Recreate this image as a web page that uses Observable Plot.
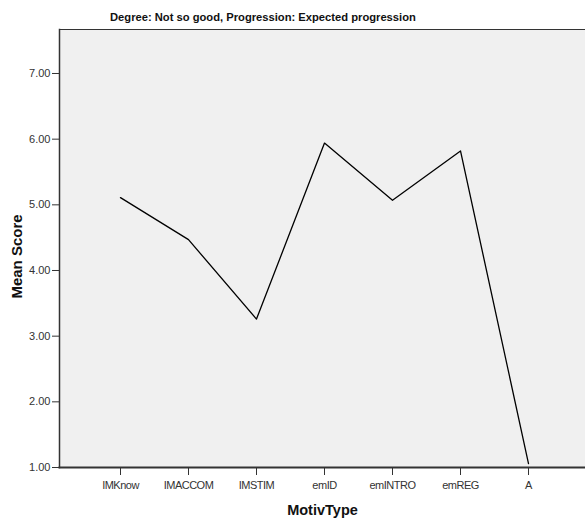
<!DOCTYPE html>
<html>
<head>
<meta charset="utf-8">
<script src="https://cdn.jsdelivr.net/npm/d3@7"></script>
<script src="https://cdn.jsdelivr.net/npm/@observablehq/plot@0.6"></script>
<style>
  html, body { margin: 0; padding: 0; background: white; overflow: hidden; }
  #title { font-family: Arial, "Liberation Sans", sans-serif; font-weight: bold; font-size: 11.2px;
           line-height: 14px; height: 18px; padding-top: 10px; padding-left: 110px; color: #111; white-space: nowrap; }
  .xax text { letter-spacing: -0.5px; }
</style>
</head>
<body>
<div id="title">Degree: Not so good, Progression: Expected progression</div>
<div id="chart"></div>
<script>
const categories = ["IMKnow", "IMACCOM", "IMSTIM", "emID", "emINTRO", "emREG", "A"];
const meanScores = [5.11, 4.47, 3.26, 5.94, 5.07, 5.82, 1.06];
const yTicks = [1, 2, 3, 4, 5, 6, 7];
const yLabel = "Mean Score";
const xLabel = "MotivType";

const data = categories.map((c, i) => ({ c, v: meanScores[i] }));

const chart = Plot.plot({
  width: 585,
  height: 494,
  marginTop: 1,
  marginBottom: 55,
  marginLeft: 59,
  marginRight: 0,
  style: { fontFamily: "Arial, 'Liberation Sans', sans-serif", fontSize: "11px", background: "white", color: "#222", overflow: "visible" },
  x: { type: "point", domain: categories, range: [119.3, 529], padding: 0 },
  y: { domain: [1, 7.67] },
  marks: [
    Plot.frame({ fill: "#f0f0f0", stroke: null }),
    Plot.frame({ anchor: "top", stroke: "#333", strokeWidth: 1 }),
    Plot.frame({ anchor: "left", stroke: "#333", strokeWidth: 1.5 }),
    Plot.axisY({ ticks: yTicks, tickFormat: d => d.toFixed(2), tickSize: 7, tickPadding: 2, label: null, stroke: "#333", fill: "#333" }),
    Plot.axisX({ tickSize: 8, tickPadding: 6, label: null, stroke: "#333", fill: "#333", className: "xax" }),
    Plot.line(data, { x: "c", y: "v", stroke: "black", strokeWidth: 1.3 }),
    Plot.frame({ anchor: "bottom", stroke: "#333", strokeWidth: 2 }),
    Plot.text([yLabel], { text: d => d, frameAnchor: "left", textAnchor: "middle", rotate: -90, dx: -42, dy: 8, fontWeight: "bold", fontSize: 15, fill: "#111" }),
    Plot.text([xLabel], { text: d => d, frameAnchor: "bottom", lineAnchor: "middle", dy: 43, fontWeight: "bold", fontSize: 14.5, fill: "#111" })
  ]
});
document.getElementById("chart").appendChild(chart);
</script>
</body>
</html>
